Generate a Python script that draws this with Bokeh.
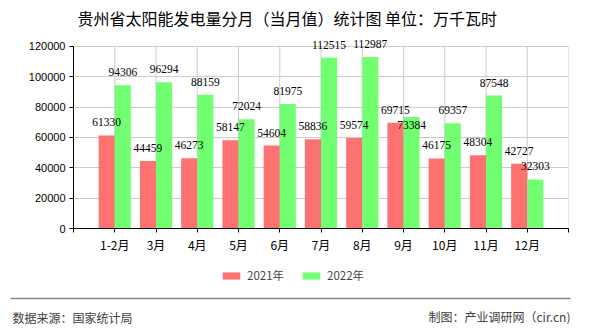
from bokeh.plotting import figure
from bokeh.models import (ColumnDataSource, FixedTicker, Label, LabelSet, Legend,
                          LegendItem, Range1d, BasicTickFormatter)
from bokeh.core.properties import value
from bokeh.embed import file_html
from bokeh.resources import INLINE

# ---------------- data ----------------
categories = ["1-2月", "3月", "4月", "5月", "6月", "7月", "8月", "9月", "10月", "11月", "12月"]
y2021 = [61330, 44459, 46273, 58147, 54604, 58836, 59574, 69715, 46175, 48304, 42727]
y2022 = [94306, 96294, 88159, 72024, 81975, 112515, 112987, 73384, 69357, 87548, 32303]
y_ticks = [0, 20000, 40000, 60000, 80000, 100000, 120000]
series_names = ["2021年", "2022年"]
title_text = "贵州省太阳能发电量分月（当月值）统计图 单位：万千瓦时"
source_text = "数据来源：国家统计局"
maker_text = "制图：产业调研网（cir.cn)"

RED = "#FF6666"
GREEN = "#66FF66"
GRID = "#cccccc"
CN_FONT = "Noto Sans CJK SC"
NUM_FONT = "Liberation Sans"

# ---------------- layout ----------------
W, H = 590, 330
MAIN_H = 255
FOOT_H = H - MAIN_H
L, R = 73, 22
AXIS_Y = 229          # canvas y of the x axis
TOP_Y = 46            # canvas y of the top tick
ymax = y_ticks[-1]
ppu = (AXIS_Y - TOP_Y) / ymax
range_top = AXIS_Y / ppu
n = len(categories)

p = figure(width=W, height=MAIN_H, output_backend="svg", toolbar_location=None,
           x_range=Range1d(-1, n), y_range=Range1d(0, range_top),
           min_border_left=L, min_border_right=R, min_border_top=0,
           min_border_bottom=MAIN_H - AXIS_Y)
p.outline_line_color = None
p.background_fill_color = "white"
p.border_fill_color = "white"

# vertical grid lines, limited to the value range
gx = list(range(-1, n + 1))
p.segment(x0=gx, y0=[0] * len(gx), x1=gx, y1=[ymax] * len(gx), line_color=GRID, line_width=1)

xs = list(range(n))
bw = 0.39
off = bw / 2
src1 = ColumnDataSource(dict(x=[i - off for i in xs], top=y2021))
src2 = ColumnDataSource(dict(x=[i + off for i in xs], top=y2022))
r1 = p.vbar(x="x", top="top", width=bw, source=src1, fill_color=RED, fill_alpha=0.92, line_color=None)
r2 = p.vbar(x="x", top="top", width=bw, source=src2, fill_color=GREEN, fill_alpha=0.92, line_color=None)

# ---------------- value labels ----------------
base_off = 13
off1 = [base_off] * n
off2 = []
for a, b in zip(y2021, y2022):
    ca = a * ppu + base_off
    cb = b * ppu + base_off
    if abs(ca - cb) < 14:
        off2.append(ca - 15 - b * ppu)
    else:
        off2.append(base_off)

lab1 = ColumnDataSource(dict(x=[i - off for i in xs], y=y2021, t=[str(v) for v in y2021], yo=off1))
lab2 = ColumnDataSource(dict(x=[i + off for i in xs], y=y2022, t=[str(v) for v in y2022], yo=off2))
for s in (lab1, lab2):
    p.add_layout(LabelSet(x="x", y="y", text="t", y_offset="yo", source=s,
                          text_align="center", text_baseline="middle",
                          text_font=NUM_FONT, text_font_size="11.5px", text_color="black"))

# ---------------- axes ----------------
p.xaxis.ticker = FixedTicker(ticks=gx)
overrides = {i: c for i, c in enumerate(categories)}
overrides[-1] = ""
overrides[n] = ""
p.xaxis.major_label_overrides = overrides
p.xaxis.major_label_text_font = CN_FONT
p.xaxis.major_label_text_font_size = "12px"
p.xaxis.major_tick_out = 4
p.xaxis.major_tick_in = 0
p.xaxis.major_label_standoff = 3

p.yaxis.ticker = FixedTicker(ticks=y_ticks)
p.yaxis.bounds = (0, ymax)
p.yaxis.formatter = BasicTickFormatter(use_scientific=False)
p.yaxis.major_label_text_font = NUM_FONT
p.yaxis.major_label_text_font_size = "11px"
p.yaxis.major_tick_out = 4
p.yaxis.major_tick_in = 0
p.yaxis.major_label_standoff = 4

for ax in (p.xaxis, p.yaxis):
    ax.minor_tick_line_color = None
    ax.axis_line_color = "black"
    ax.major_tick_line_color = "black"
    ax.major_label_text_color = "black"

p.xgrid.grid_line_color = None
p.ygrid.grid_line_color = GRID

# title inside the (tall) frame
p.add_layout(Label(x=77 - L, y=AXIS_Y - 18, x_units="screen", y_units="screen",
                   text=title_text, text_font=CN_FONT, text_font_size="16px",
                   text_align="left", text_baseline="middle", text_color="black"))

# ---------------- footer figure (legend, rule, sources) ----------------
f = figure(width=W, height=FOOT_H, output_backend="svg", toolbar_location=None,
           x_range=Range1d(0, W), y_range=Range1d(FOOT_H, 0),
           x_axis_location=None, y_axis_location=None,
           min_border=0, min_border_left=0, min_border_right=0,
           min_border_top=0, min_border_bottom=0)
f.grid.visible = False
f.outline_line_color = None
f.background_fill_color = "white"
f.border_fill_color = "white"

# legend proxies (one point each, placed outside the visible range)
d1 = f.vbar(x=[-100], top=[-100], width=1, fill_color=RED, fill_alpha=0.92, line_color=None)
d2 = f.vbar(x=[-100], top=[-100], width=1, fill_color=GREEN, fill_alpha=0.92, line_color=None)
legend = Legend(items=[LegendItem(label=series_names[0], renderers=[d1]),
                       LegendItem(label=series_names[1], renderers=[d2])],
                orientation="horizontal", location=(220, FOOT_H - (283 - MAIN_H)))
legend.label_text_font = CN_FONT
legend.label_text_font_size = "11.5px"
legend.glyph_width = 22
legend.glyph_height = 9
legend.label_height = 12
legend.label_standoff = 5
legend.spacing = 16
legend.padding = 0
legend.margin = 0
legend.border_line_color = None
legend.background_fill_alpha = 0
f.add_layout(legend)

f.segment(x0=[10], y0=[298 - MAIN_H], x1=[570], y1=[298 - MAIN_H], line_color="#888888", line_width=1.5)
f.text(x=[12], y=[317 - MAIN_H], text=[source_text], text_font=value(CN_FONT), text_font_size="12px",
       text_align="left", text_baseline="middle", text_color="#404040")
f.text(x=[570], y=[316 - MAIN_H], text=[maker_text], text_font=value(CN_FONT), text_font_size="12px",
       text_align="right", text_baseline="middle", text_color="#404040")

open("out.html", "w").write(file_html([p, f], INLINE))
